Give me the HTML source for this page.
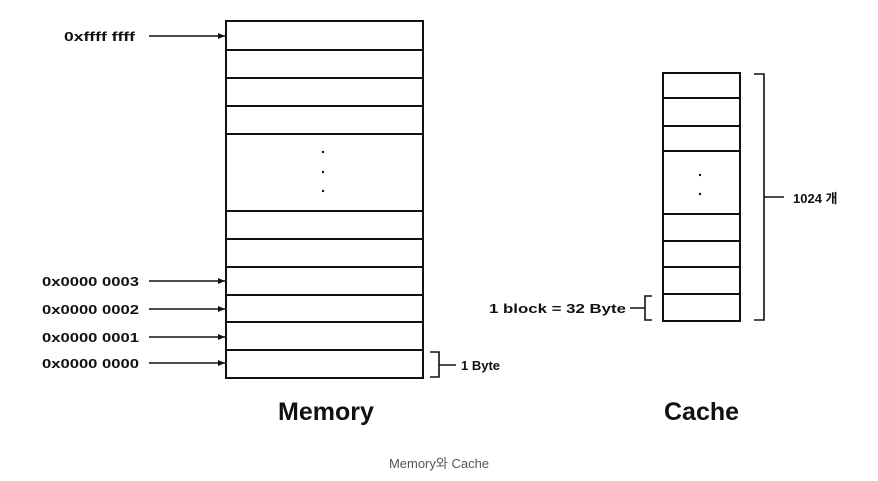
<!DOCTYPE html>
<html><head><meta charset="utf-8"><style>
html,body{margin:0;padding:0;background:#fff;}
svg{display:block;}
text{font-family:"Liberation Sans","Noto Sans CJK KR",sans-serif;fill:#111;}
</style></head><body>
<svg width="878" height="481" viewBox="0 0 878 481" xmlns="http://www.w3.org/2000/svg">
<defs><marker id="ah" markerWidth="8" markerHeight="8" refX="7" refY="4" orient="auto" markerUnits="userSpaceOnUse"><path d="M0,1 L7,4 L0,7 Z" fill="#111"/></marker></defs>
<g stroke="#111" fill="none" stroke-width="2">
<rect x="226" y="21" width="197" height="357"/>
<line x1="226" y1="50" x2="423" y2="50"/>
<line x1="226" y1="78" x2="423" y2="78"/>
<line x1="226" y1="106" x2="423" y2="106"/>
<line x1="226" y1="134" x2="423" y2="134"/>
<line x1="226" y1="211" x2="423" y2="211"/>
<line x1="226" y1="239" x2="423" y2="239"/>
<line x1="226" y1="267" x2="423" y2="267"/>
<line x1="226" y1="295" x2="423" y2="295"/>
<line x1="226" y1="322" x2="423" y2="322"/>
<line x1="226" y1="350" x2="423" y2="350"/>
<rect x="663" y="73" width="77" height="248"/>
<line x1="663" y1="98" x2="740" y2="98"/>
<line x1="663" y1="126" x2="740" y2="126"/>
<line x1="663" y1="151" x2="740" y2="151"/>
<line x1="663" y1="214" x2="740" y2="214"/>
<line x1="663" y1="241" x2="740" y2="241"/>
<line x1="663" y1="267" x2="740" y2="267"/>
<line x1="663" y1="294" x2="740" y2="294"/>
</g>
<g stroke="#111" stroke-width="1.6" fill="none">
<line x1="149" y1="36" x2="225" y2="36" marker-end="url(#ah)"/>
<line x1="149" y1="281" x2="225" y2="281" marker-end="url(#ah)"/>
<line x1="149" y1="309" x2="225" y2="309" marker-end="url(#ah)"/>
<line x1="149" y1="337" x2="225" y2="337" marker-end="url(#ah)"/>
<line x1="149" y1="363" x2="225" y2="363" marker-end="url(#ah)"/>
<path d="M430,352 H439 V377 H430 M439,365 H456"/>
<path d="M754,74 H764 V320 H754 M764,197 H784"/>
<path d="M652,296 H645 V320 H652 M645,308 H630"/>
</g>
<g fill="#111">
<circle cx="323" cy="152" r="1.2"/><circle cx="323" cy="172" r="1.2"/><circle cx="323" cy="191" r="1.2"/>
<circle cx="700" cy="175" r="1.2"/><circle cx="700" cy="194" r="1.2"/>
</g>
<g font-size="13" font-weight="bold">
<text x="64" y="41" textLength="71" lengthAdjust="spacingAndGlyphs">0xffff ffff</text>
<text x="42" y="286" textLength="97" lengthAdjust="spacingAndGlyphs">0x0000 0003</text>
<text x="42" y="314" textLength="97" lengthAdjust="spacingAndGlyphs">0x0000 0002</text>
<text x="42" y="342" textLength="97" lengthAdjust="spacingAndGlyphs">0x0000 0001</text>
<text x="42" y="368" textLength="97" lengthAdjust="spacingAndGlyphs">0x0000 0000</text>
<text x="461" y="370">1 Byte</text>
<text x="489" y="313" textLength="137" lengthAdjust="spacingAndGlyphs">1 block = 32 Byte</text>
<text x="793" y="203">1024 개</text>
</g>
<text x="278" y="420" font-size="25" font-weight="bold">Memory</text>
<text x="664" y="420" font-size="25" font-weight="bold">Cache</text>
<text x="439" y="468" font-size="13" text-anchor="middle" style="fill:#555">Memory와 Cache</text>
</svg>
</body></html>
